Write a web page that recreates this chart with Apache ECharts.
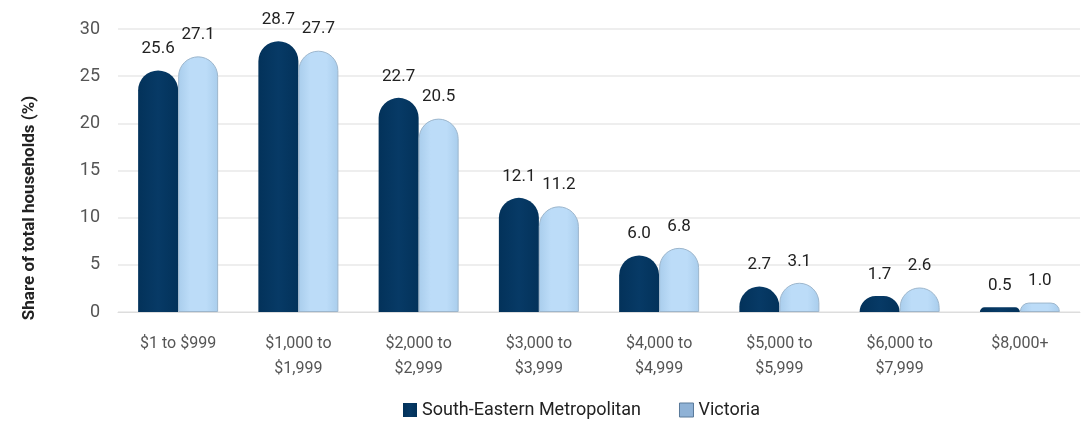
<!DOCTYPE html>
<html><head><meta charset="utf-8">
<script src="https://cdn.jsdelivr.net/npm/echarts@6/dist/echarts.min.js"></script>
<style>html,body{margin:0;padding:0;background:#fff}#c{width:1083px;height:427px}</style>
</head><body><div id="c"></div>
<script>
const categories = ['$1 to $999','$1,000 to\n$1,999','$2,000 to\n$2,999','$3,000 to\n$3,999','$4,000 to\n$4,999','$5,000 to\n$5,999','$6,000 to\n$7,999','$8,000+'];
const southEastern = [25.6, 28.7, 22.7, 12.1, 6.0, 2.7, 1.7, 0.5];
const victoria = [27.1, 27.7, 20.5, 11.2, 6.8, 3.1, 2.6, 1.0];
const yTicks = [0, 5, 10, 15, 20, 25, 30];

const font = 'Roboto';
const chart = echarts.init(document.getElementById('c'));
const lbl = {show:true, position:'top', distance:13, fontFamily:font, fontSize:17, color:'#222', formatter: p => p.value.toFixed(1)};
const darkGrad = {type:'linear', x:0, y:0, x2:1, y2:0, colorStops:[{offset:0,color:'#03325a'},{offset:0.5,color:'#073a66'},{offset:1,color:'#03325a'}]};
const lightGrad = {type:'linear', x:0, y:0, x2:1, y2:0, colorStops:[{offset:0,color:'#a9cdec'},{offset:0.3,color:'#bcdcf8'},{offset:0.7,color:'#bcdcf8'},{offset:1,color:'#a9cdec'}]};
chart.setOption({
  animation:false,
  grid:{left:118, right:3, top:29, bottom:115},
  graphic:[{type:'text', x:30, y:208, rotation:Math.PI/2,
    style:{text:'Share of total households (%)', fontFamily:font, fontSize:17, fontWeight:'bold', fill:'#222', align:'center', verticalAlign:'middle'}}],
  legend:{bottom:3, left:398, itemWidth:14, itemHeight:14, itemGap:38,
    textStyle:{fontFamily:font, fontSize:18, color:'#222'},
    data:[{name:'South-Eastern Metropolitan', icon:'rect'},{name:'Victoria', icon:'rect', itemStyle:{color:'#8fb2d6', borderColor:'#5a7a9a', borderWidth:1}}]},
  xAxis:{type:'category', data:categories, axisTick:{show:false},
    axisLine:{lineStyle:{color:'#ddd'}},
    axisLabel:{fontFamily:font, fontSize:16, color:'#555', margin:19, lineHeight:25}},
  yAxis:{type:'value', min:0, max:30, interval:5,
    axisLabel:{fontFamily:font, fontSize:18, color:'#555', margin:18, formatter: v => yTicks.includes(v) ? String(v) : ''},
    splitLine:{lineStyle:{color:'#e8e8e8', width:1.5}}},
  series:[
    {name:'South-Eastern Metropolitan', type:'bar', data:southEastern, barWidth:40, barGap:'0%',
     itemStyle:{color:darkGrad, borderRadius:[20,20,0,0]}, label:lbl},
    {name:'Victoria', type:'bar', data:victoria, barWidth:40, barGap:'0%',
     itemStyle:{color:lightGrad, borderColor:'#9db6cc', borderWidth:1, borderRadius:[20,20,0,0]}, label:lbl}
  ]
});
</script></body></html>
